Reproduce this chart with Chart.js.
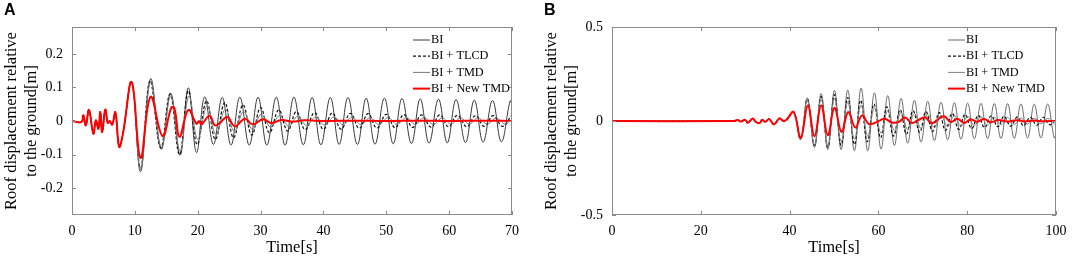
<!DOCTYPE html>
<html>
<head>
<meta charset="utf-8">
<script src="https://cdn.jsdelivr.net/npm/chart.js@4.4.0/dist/chart.umd.min.js"></script>
<style>
  body { margin: 0; background: #fff; width: 1084px; height: 260px; overflow: hidden; position: relative; }
  .panel { position: absolute; top: 0; height: 260px; }
  .tag { position: absolute; top: 1px; font: bold 16px "Liberation Sans", Arial, sans-serif; color: #000; }
</style>
</head>
<body>
<div class="panel" style="left:0;width:540px"><canvas id="chartA" width="540" height="260"></canvas></div>
<div class="panel" style="left:540px;width:544px"><canvas id="chartB" width="544" height="260"></canvas></div>
<div class="tag" style="left:4px">A</div>
<div class="tag" style="left:544px">B</div>
<script>
// ---- data: [time s, displacement m] at turning points ----
const seriesNames = ['BI', 'BI + TLCD', 'BI + TMD', 'BI + New TMD'];

// panel A
const aStart = [[0,0],[1.5,-0.003],[1.8,0.017],[2.2,-0.013],[2.7,0.033],[3.4,-0.038],[3.8,0.002],[4.2,-0.023],[4.5,0.027],[4.8,-0.033],[5.3,0.034],[5.7,-0.006],[6.0,0.0],[6.4,-0.011],[6.9,0.026],[7.5,-0.077],[8.1,-0.038],[9.5,0.116]];
const aBI = [[10.9,-0.151],[12.5,0.126],[14.2,-0.084],[15.7,0.083],[17.2,-0.102],[18.5,0.099],[19.8,-0.094],[21.1,0.072],[22.5,-0.07],[23.9,0.07],[25.3,-0.072],[26.7,0.071],[28.2,-0.072],[29.6,0.071],[31.0,-0.072],[32.5,0.071],[33.9,-0.072],[35.3,0.071],[36.8,-0.071],[38.2,0.07],[39.6,-0.071],[41.1,0.07],[42.5,-0.07],[43.9,0.07],[45.4,-0.07],[46.8,0.068],[48.2,-0.069],[49.7,0.068],[51.1,-0.068],[52.5,0.067],[54.0,-0.067],[55.4,0.066],[56.8,-0.066],[58.3,0.065],[59.7,-0.065],[61.1,0.064],[62.6,-0.064],[64.0,0.062],[65.4,-0.063],[66.9,0.061],[68.3,-0.062],[69.7,0.06],[70,0.05]];
const aTLCD = [[10.9,-0.14],[12.4,0.12],[14.1,-0.08],[15.6,0.08],[17.1,-0.1],[18.5,0.09],[19.9,-0.07],[21.4,0.06],[22.8,-0.055],[24.3,0.055],[25.7,-0.05],[27.2,0.048],[28.6,-0.042],[30.0,0.04],[31.4,-0.035],[32.9,0.033],[34.3,-0.03],[35.7,0.028],[37.1,-0.026],[38.6,0.025],[40.0,-0.025],[41.4,0.024],[42.8,-0.024],[44.3,0.023],[45.7,-0.022],[47.1,0.022],[48.5,-0.021],[50.0,0.02],[51.4,-0.02],[52.8,0.019],[54.2,-0.019],[55.6,0.018],[57.1,-0.018],[58.5,0.018],[59.9,-0.017],[61.3,0.017],[62.8,-0.017],[64.2,0.016],[65.6,-0.016],[67.0,0.016],[68.5,-0.016],[69.9,0.015],[70,0.015]];
const aTMD = [[10.9,-0.145],[12.5,0.118],[14.2,-0.078],[15.7,0.075],[17.2,-0.09],[18.6,0.075],[20.0,-0.055],[21.5,0.045],[22.9,-0.04],[24.4,0.035],[25.8,-0.03],[27.3,0.028],[28.7,-0.025],[30.1,0.02],[31.6,-0.018],[33.0,0.016],[34.5,-0.015],[35.9,0.014],[37.3,-0.013],[38.8,0.012],[40.2,-0.012],[41.7,0.012],[43.1,-0.011],[44.5,0.011],[46.0,-0.011],[47.4,0.01],[48.8,-0.01],[50.3,0.01],[51.7,-0.01],[53.2,0.01],[54.6,-0.01],[56.0,0.01],[57.5,-0.01],[58.9,0.009],[60.3,-0.009],[61.8,0.009],[63.2,-0.009],[64.6,0.009],[66.1,-0.009],[67.5,0.009],[68.9,-0.009],[70,0.005]];
const aNew = [[10.9,-0.11],[12.5,0.072],[14.4,-0.045],[15.8,0.04],[16.3,0.038],[17.1,-0.047],[18.5,0.033],[19.8,-0.008],[20.2,0.0],[20.6,-0.01],[21.9,0.016],[22.7,-0.013],[23.4,-0.008],[24.7,0.012],[25.9,-0.016],[27.5,0.007],[28.7,-0.01],[30.4,0.005],[31.7,-0.006],[33.3,0.003],[35.0,-0.002],[37,0.002],[40,0],[45,0.001],[50,0],[55,0.001],[60,0],[65,0.001],[70,0]];
const aXTicks = [0, 10, 20, 30, 40, 50, 60, 70];
const aYTicks = [-0.2, -0.1, 0, 0.1, 0.2];

// panel B
const bStart = [[0,0],[27.5,0],[28.3,0.005],[29,-0.003],[30.0,0.006],[30.6,-0.01],[31.7,0.013],[32.4,-0.005],[33.3,-0.01],[33.8,0.006],[34.5,-0.004],[35.4,0.01],[36.5,-0.018],[37.7,0.014],[38.6,0.0],[39.3,0.006],[40.9,0.048]];
const bBI = [[42.5,-0.1],[44.0,0.124],[45.6,-0.142],[47.1,0.146],[48.6,-0.152],[50.1,0.163],[51.6,-0.152],[53.1,0.165],[54.6,-0.158],[56.1,0.175],[57.6,-0.158],[59.1,0.15],[60.6,-0.15],[62.1,0.135],[63.6,-0.13],[65.1,0.12],[66.6,-0.118],[68.1,0.11],[69.6,-0.112],[71.1,0.105],[72.6,-0.104],[74.1,0.1],[75.6,-0.1],[77.1,0.097],[78.6,-0.097],[80.1,0.095],[81.6,-0.095],[83.1,0.094],[84.6,-0.094],[86.1,0.093],[87.6,-0.093],[89.1,0.092],[90.6,-0.092],[92.1,0.091],[93.6,-0.091],[95.1,0.09],[96.6,-0.09],[98.1,0.09],[99.6,-0.09],[100,-0.07]];
const bTLCD = [[42.5,-0.095],[44.0,0.115],[45.6,-0.13],[47.1,0.13],[48.6,-0.14],[50.1,0.14],[51.6,-0.13],[53.1,0.125],[54.6,-0.125],[56.0,0.11],[57.5,-0.11],[59.0,0.09],[60.5,-0.09],[61.9,0.075],[63.4,-0.08],[64.9,0.06],[66.3,-0.07],[67.8,0.055],[69.3,-0.06],[70.7,0.05],[72.2,-0.055],[73.7,0.045],[75.1,-0.05],[76.6,0.04],[78.1,-0.045],[79.5,0.035],[81.0,-0.04],[82.5,0.03],[83.9,-0.035],[85.4,0.028],[86.9,-0.03],[88.3,0.025],[89.8,-0.028],[91.3,0.022],[92.7,-0.025],[94.2,0.02],[95.7,-0.022],[97.1,0.02],[98.6,-0.02],[100,0.01]];
const bTMD = [[42.5,-0.095],[44.0,0.11],[45.6,-0.125],[47.1,0.12],[48.6,-0.13],[50.1,0.12],[51.6,-0.11],[53.1,0.1],[54.6,-0.095],[56.1,0.085],[57.6,-0.08],[59.1,0.07],[60.6,-0.065],[62.1,0.055],[63.6,-0.05],[65.1,0.045],[66.6,-0.045],[68.1,0.04],[69.6,-0.04],[71.1,0.035],[72.6,-0.035],[74.1,0.03],[75.6,-0.03],[77.1,0.028],[78.6,-0.028],[80.1,0.025],[81.6,-0.025],[83.1,0.022],[84.6,-0.022],[86.1,0.02],[87.6,-0.02],[89.1,0.018],[90.6,-0.018],[92.1,0.016],[93.6,-0.016],[95.1,0.015],[96.6,-0.015],[98.1,0.014],[99.6,-0.014],[100,-0.01]];
const bNew = [[42.5,-0.089],[44.1,0.083],[45.6,-0.081],[47.1,0.083],[48.6,-0.076],[50.1,0.07],[51.7,-0.058],[53.2,0.048],[54.8,-0.035],[56.3,0.03],[57.8,-0.015],[59.0,-0.012],[60.5,0.005],[61.5,0.012],[63.0,-0.008],[64.5,-0.006],[66.0,0.018],[67.5,-0.01],[69.0,0.005],[70.5,0.02],[72.0,-0.012],[73.5,0.01],[74.8,0.025],[76.3,-0.005],[77.8,0.012],[79.3,-0.01],[80.8,0.008],[82.3,-0.004],[83.8,0.01],[85.3,-0.006],[87,0.005],[89,-0.003],[91,0.004],[93,-0.002],[95,0.002],[97,-0.001],[100,0]];
const bXTicks = [0, 20, 40, 60, 80, 100];
const bYTicks = [-0.5, 0, 0.5];

const serif = '"Liberation Serif", "Times New Roman", serif';
const frameColor = '#8a8a8a';

function pts(arr) { return arr.map(p => ({x: p[0], y: p[1]})); }

// box round the plot with inward tick marks (matlab look)
const framePlugin = {
  id: 'frame',
  afterDatasetsDraw(chart) {
    const {ctx, chartArea: a, scales} = chart;
    ctx.save();
    ctx.strokeStyle = frameColor;
    ctx.lineWidth = 1;
    ctx.strokeRect(a.left + 0.5, a.top + 0.5, a.right - a.left - 1, a.bottom - a.top - 1);
    ctx.beginPath();
    scales.x.ticks.forEach(t => {
      const px = Math.round(scales.x.getPixelForValue(t.value)) + 0.5;
      ctx.moveTo(px, a.bottom); ctx.lineTo(px, a.bottom - 4);
      ctx.moveTo(px, a.top); ctx.lineTo(px, a.top + 4);
    });
    scales.y.ticks.forEach(t => {
      const py = Math.round(scales.y.getPixelForValue(t.value)) + 0.5;
      ctx.moveTo(a.left, py); ctx.lineTo(a.left + 4, py);
      ctx.moveTo(a.right, py); ctx.lineTo(a.right - 4, py);
    });
    ctx.stroke();
    ctx.restore();
  }
};

// legend drawn inside the top right corner
const legendPlugin = {
  id: 'innerLegend',
  afterDraw(chart, args, opts) {
    const ctx = chart.ctx;
    ctx.save();
    ctx.font = opts.fontSize + 'px ' + serif;
    ctx.textBaseline = 'middle';
    ctx.fillStyle = '#000';
    chart.data.datasets.forEach((ds, i) => {
      const y = opts.y + i * opts.dy;
      ctx.beginPath();
      ctx.strokeStyle = ds.borderColor;
      ctx.lineWidth = ds.borderWidth;
      ctx.setLineDash(ds.borderDash || []);
      ctx.moveTo(opts.x, y);
      ctx.lineTo(opts.x + opts.len, y);
      ctx.stroke();
      ctx.setLineDash([]);
      ctx.fillText(ds.label, opts.x + opts.len + 1, y);
    });
    ctx.restore();
  }
};

function makeChart(id, d, xMax, xTicks, yMin, yMax, yTicks, colors, legendX) {
  const ds = [
    {label: seriesNames[0], data: pts(d[0]), borderColor: colors[0], borderWidth: 1, order: 3},
    {label: seriesNames[1], data: pts(d[1]), borderColor: '#111', borderWidth: 1.2, borderDash: [3, 2], order: 2},
    {label: seriesNames[2], data: pts(d[2]), borderColor: colors[1], borderWidth: 1, order: 1},
    {label: seriesNames[3], data: pts(d[3]), borderColor: '#ff0000', borderWidth: 2, order: 0}
  ];
  return new Chart(document.getElementById(id), {
    type: 'line',
    data: {datasets: ds},
    options: {
      responsive: false,
      animation: false,
      devicePixelRatio: 1,
      elements: {point: {radius: 0}, line: {tension: 0.4}},
      layout: {padding: {top: 27, right: 28, left: 0, bottom: 0}},
      plugins: {
        legend: {display: false},
        tooltip: {enabled: false},
        innerLegend: {x: legendX, y: 40, dy: 16.2, len: 17, fontSize: 12.3}
      },
      scales: {
        x: {
          type: 'linear', min: 0, max: xMax,
          afterBuildTicks: s => { s.ticks = xTicks.map(v => ({value: v})); },
          afterFit: s => { s.height = 45; },
          grid: {display: false, drawTicks: false},
          border: {display: false},
          ticks: {color: '#000', padding: 8, maxRotation: 0, font: {family: serif, size: 14}},
          title: {display: true, text: 'Time[s]', color: '#000', padding: {top: 0, bottom: 2}, font: {family: serif, size: 16.5}}
        },
        y: {
          type: 'linear', min: yMin, max: yMax,
          afterBuildTicks: s => { s.ticks = yTicks.map(v => ({value: v})); },
          afterFit: s => { s.width = 72; },
          grid: {display: false, drawTicks: false},
          border: {display: false},
          ticks: {color: '#000', padding: 9, callback: v => String(v), font: {family: serif, size: 14}},
          title: {display: true, text: ['Roof displacement relative', 'to the ground[m]'], color: '#000', padding: {top: 2, bottom: 0}, font: {family: serif, size: 16.5}}
        }
      }
    },
    plugins: [framePlugin, legendPlugin]
  });
}

makeChart('chartA', [aStart.concat(aBI), aStart.concat(aTLCD), aStart.concat(aTMD), aStart.concat(aNew)],
  70, aXTicks, -0.28, 0.28, aYTicks, ['#3a3a3a', '#7a7a7a'], 413);
makeChart('chartB', [bStart.concat(bBI), bStart.concat(bTLCD), bStart.concat(bTMD), bStart.concat(bNew)],
  100, bXTicks, -0.5, 0.5, bYTicks, ['#6a6a6a', '#808080'], 408);
</script>
</body>
</html>
